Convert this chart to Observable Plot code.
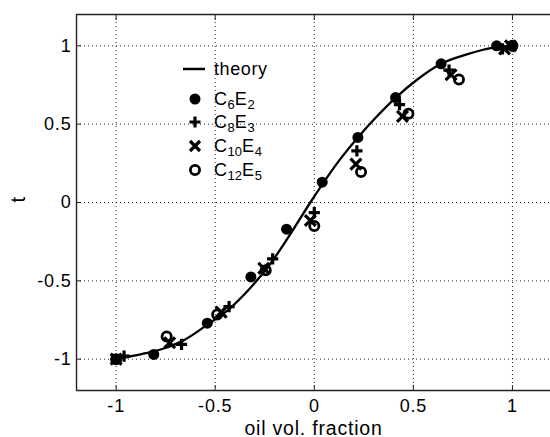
<!DOCTYPE html>
<html>
<head>
<meta charset="utf-8">
<script src="https://cdn.jsdelivr.net/npm/d3@7"></script>
<script src="https://cdn.jsdelivr.net/npm/@observablehq/plot@0.6"></script>
<style>
  html, body { margin: 0; padding: 0; background: #fff; }
  #wrap { position: relative; width: 550px; height: 437px; font-family: "Liberation Sans", Arial, sans-serif; }
  .row { position: absolute; height: 24px; line-height: 24px; font-size: 18px; letter-spacing: 0.6px; color: #000; white-space: nowrap; }
  .row sub { font-size: 13px; vertical-align: -4px; line-height: 0; letter-spacing: 0; }
  .sym { position: absolute; width: 26px; height: 24px; }
</style>
</head>
<body>
<div id="wrap"></div>
<script>
// ---- data ----
const xDomain = [-1.2, 1.192];
const yDomain = [-1.2, 1.2];
const xTicks = [-1, -0.5, 0, 0.5, 1];
const yTicks = [-1, -0.5, 0, 0.5, 1];

const theoryX = [-1, -0.93, -0.85, -0.76, -0.66, -0.54, -0.43, -0.33, -0.23, -0.12, -0.02, 0.13, 0.22, 0.32, 0.41, 0.52, 0.64, 0.77, 0.89, 1];
const theoryY = [-1, -0.983, -0.962, -0.932, -0.88, -0.78, -0.68, -0.555, -0.405, -0.2, 0, 0.275, 0.415, 0.555, 0.668, 0.785, 0.885, 0.945, 0.985, 1];

const c6x = [-1, -0.81, -0.54, -0.32, -0.14, 0.04, 0.22, 0.41, 0.64, 0.92, 1.0];
const c6y = [-1, -0.97, -0.77, -0.475, -0.17, 0.13, 0.415, 0.67, 0.885, 1.0, 1.0];

const c8x = [-0.96, -0.67, -0.43, -0.21, 0.0, 0.215, 0.43, 0.68, 0.95, 1.0];
const c8y = [-0.98, -0.905, -0.665, -0.36, -0.065, 0.33, 0.625, 0.845, 0.98, 1.0];

const c10x = [-1, -0.73, -0.47, -0.255, -0.02, 0.21, 0.445, 0.69, 0.96, 0.99];
const c10y = [-1, -0.895, -0.70, -0.42, -0.115, 0.245, 0.55, 0.815, 0.98, 1.0];

const c12x = [-1, -0.745, -0.49, -0.245, 0.0, 0.236, 0.475, 0.73, 1.0];
const c12y = [-1, -0.855, -0.715, -0.433, -0.15, 0.195, 0.567, 0.785, 1.0];

const legendLabels = ["theory", ["C", "6", "E", "2"], ["C", "8", "E", "3"], ["C", "10", "E", "4"], ["C", "12", "E", "5"]];

// ---- build ----
const zip = (xs, ys) => xs.map((x, i) => ({x, y: ys[i]}));
const theory = zip(theoryX, theoryY);
const c6 = zip(c6x, c6y), c8 = zip(c8x, c8y), c10 = zip(c10x, c10y), c12 = zip(c12x, c12y);
const fmt = d => String(d);

const chart = Plot.plot({
  width: 550,
  height: 437,
  marginLeft: 76,
  marginRight: 0,
  marginTop: 14,
  marginBottom: 47,
  style: {fontFamily: "'Liberation Sans', Arial, sans-serif", fontSize: "18px", color: "#000", background: "#fff", letterSpacing: "0.8px"},
  x: {domain: xDomain},
  y: {domain: yDomain},
  marks: [
    Plot.gridX(xTicks, {stroke: "#000", strokeOpacity: 0.85, strokeWidth: 1, strokeDasharray: "1,3"}),
    Plot.gridY(yTicks, {stroke: "#000", strokeOpacity: 0.85, strokeWidth: 1, strokeDasharray: "1,3"}),
    Plot.axisX(xTicks, {anchor: "bottom", tickSize: 0, tickPadding: 9, tickFormat: fmt, label: null, fontSize: 18}),
    Plot.axisX(xTicks, {anchor: "bottom", tickSize: -5, tickFormat: () => "", label: null, stroke: "#222"}),
    Plot.axisX(xTicks, {anchor: "top", tickSize: -5, tickFormat: () => "", label: null, stroke: "#222"}),
    Plot.axisY(yTicks, {anchor: "left", tickSize: 0, tickPadding: 5, tickFormat: fmt, label: null, fontSize: 18}),
    Plot.axisY(yTicks, {anchor: "left", tickSize: -5, tickFormat: () => "", label: null, stroke: "#222"}),
    Plot.ruleY([yDomain[0]], {stroke: "#222", strokeWidth: 1.4}),
    Plot.ruleY([yDomain[1]], {stroke: "#222", strokeWidth: 1.4}),
    Plot.ruleX([xDomain[0]], {stroke: "#222", strokeWidth: 1.4}),
    Plot.line(theory, {x: "x", y: "y", curve: "monotone-x", stroke: "#000", strokeWidth: 2.3}),
    Plot.dot(c6, {x: "x", y: "y", r: 5.5, fill: "#000", stroke: "none"}),
    Plot.dot(c8, {x: "x", y: "y", symbol: "plus", r: 3.7, stroke: "#000", strokeWidth: 3.2}),
    Plot.dot(c10, {x: "x", y: "y", symbol: "times", r: 5, stroke: "#000", strokeWidth: 3.2}),
    Plot.dot(c12, {x: "x", y: "y", r: 4.6, fill: "none", stroke: "#000", strokeWidth: 2.8}),
    Plot.text(["oil vol. fraction"], {frameAnchor: "bottom", dy: 44, lineAnchor: "bottom", text: d => d, fontSize: 19.5, fill: "#000"}),
    Plot.text(["t"], {frameAnchor: "left", dx: -58, rotate: -90, text: d => d, fontSize: 20, fill: "#000"})
  ]
});

const wrap = document.getElementById("wrap");
wrap.appendChild(chart);

// ---- legend (inside the plot area) ----
const rowsY = [69, 99, 122, 146, 170];
const symX = 182, textX = 214;
const symbols = [
  '<line x1="1" y1="12" x2="23" y2="12" stroke="#000" stroke-width="2.5"/>',
  '<circle cx="13" cy="12" r="5.5" fill="#000"/>',
  '<path d="M13,6.5V17.5M7.5,12H18.5" stroke="#000" stroke-width="3.2" fill="none"/>',
  '<path d="M8,7L18,17M18,7L8,17" stroke="#000" stroke-width="3.2" fill="none"/>',
  '<circle cx="13" cy="12" r="4.6" fill="none" stroke="#000" stroke-width="2.8"/>'
];
legendLabels.forEach((lab, i) => {
  const s = document.createElement("div");
  s.className = "sym";
  s.style.left = symX + "px";
  s.style.top = (rowsY[i] - 12) + "px";
  s.innerHTML = '<svg width="26" height="24">' + symbols[i] + '</svg>';
  wrap.appendChild(s);
  const t = document.createElement("div");
  t.className = "row";
  t.style.left = textX + "px";
  t.style.top = (rowsY[i] - 12) + "px";
  if (typeof lab === "string") t.textContent = lab;
  else t.innerHTML = lab[0] + "<sub>" + lab[1] + "</sub>" + lab[2] + "<sub>" + lab[3] + "</sub>";
  wrap.appendChild(t);
});
</script>
</body>
</html>
